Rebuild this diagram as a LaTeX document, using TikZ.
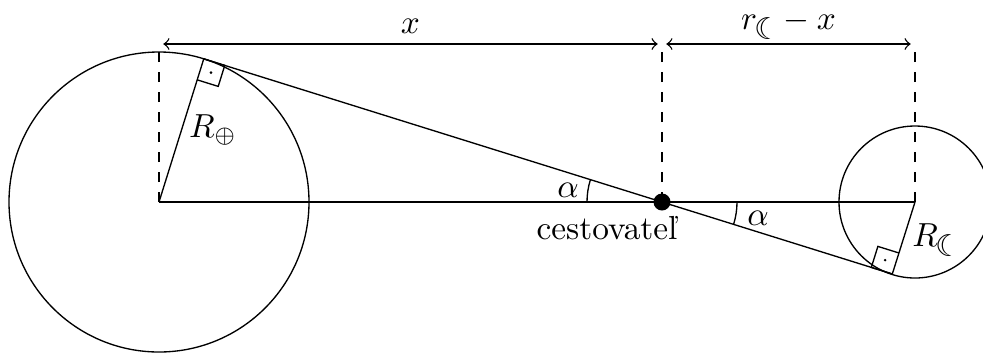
\documentclass[tikz,border=0pt]{standalone}
\usepackage{fontspec}
\newfontfamily\symfont{DejaVu Sans}
\usetikzlibrary{calc}
\newcommand{\moonsub}{\mbox{\kern-0.6pt\symfont\fontsize{9}{9}\selectfont ☾\kern-2pt}}
\begin{document}
\begin{tikzpicture}[x=0.3pt,y=0.3pt,line width=0.4pt,
  dimline/.style={<->,shorten <=1.3pt,shorten >=1.3pt},
  guide/.style={dashed},
  lbl/.style={inner sep=0pt}]
\useasboundingbox (0,0) rectangle (983,352);
\coordinate (C1) at (159,150);
\coordinate (C2) at (915,150);
\coordinate (P) at (662,150);
\coordinate (T1) at ($(P)+(162.65:480.1)$);
\coordinate (T2) at ($(P)+(-17.35:241.3)$);
\coordinate (C1top) at (159,300);
\coordinate (L) at (159,308);
\coordinate (Ptop) at (662,308);
\coordinate (C2top) at (915,308);
% circles
\draw (C1) circle (150);
\draw (C2) circle (76);
% baseline and tangent
\draw (C1) -- (C2);
\draw (T1) -- (T2);
\draw (C1) -- (T1);
\draw (C2) -- (T2);
% dashed guides
\draw[guide] (C1) -- (C1top);
\draw[guide] (P) -- (Ptop);
\draw[guide] (C2) -- (C2top);
% dimensions
\draw[dimline] (L) -- (Ptop);
\draw[dimline] (Ptop) -- (C2top);
\node[lbl,anchor=base] (lx) at (410.5,319) {$x$};
\node[lbl,anchor=base] (lrx) at (788.5,323) {$r_{\moonsub}-x$};
% right angles
\draw (T1) -- ++(-17.35:22) -- ++(252.65:22) -- ++(162.65:22);
\fill ($(T1)+(-17.35:11)+(252.65:11)$) circle (1.4);
\draw (T2) -- ++(162.65:22) -- ++(72.65:22) -- ++(-17.35:22);
\fill ($(T2)+(162.65:11)+(72.65:11)$) circle (1.4);
% angles
\draw ($(P)+(180:75)$) arc[start angle=180,end angle=162.65,radius=75];
\draw ($(P)+(0:75)$) arc[start angle=0,end angle=-17.35,radius=75];
\node[lbl] (a1) at (568,162) {$\alpha$};
\node[lbl] (a2) at (758,134) {$\alpha$};
\node[lbl] (re) at (213,222) {$R_\oplus$};
\node[lbl] (rm) at (935,112) {$R_{\moonsub}$};
\node[lbl] (cest) at (607,124) {cestovateľ};
\fill (P) circle (8.5);
\end{tikzpicture}
\end{document}
